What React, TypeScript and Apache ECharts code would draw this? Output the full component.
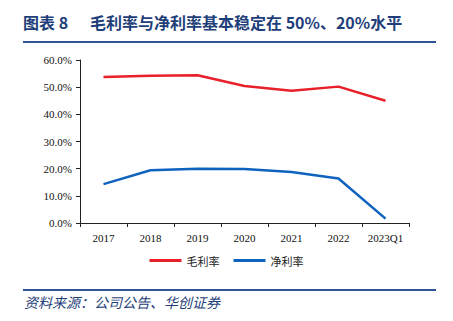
import React, { useEffect, useRef } from "react";
import * as echarts from "echarts";

const categories = ["2017", "2018", "2019", "2020", "2021", "2022", "2023Q1"];
const grossMargin = [53.7, 54.2, 54.4, 50.4, 48.7, 50.2, 45.0];
const netMargin = [14.3, 19.4, 20.0, 19.9, 18.8, 16.4, 1.6];
const yTicks = [0, 10, 20, 30, 40, 50, 60];

const NAVY = "#1F3F7A";

export default function App() {
  const ref = useRef<HTMLDivElement>(null);
  useEffect(() => {
    const chart = echarts.init(ref.current!, null, { renderer: "svg" });
    chart.setOption({
      animation: false,
      backgroundColor: "#fff",
      graphic: [
        {
          type: "text",
          left: 23,
          top: 14,
          style: {
            text: "图表 8",
            font: "bold 16px 'Noto Sans CJK SC', serif",
            fill: NAVY,
          },
        },
        {
          type: "text",
          left: 90,
          top: 14,
          style: {
            text: "毛利率与净利率基本稳定在 50%、20%水平",
            font: "bold 16px 'Noto Sans CJK SC', serif",
            fill: NAVY,
          },
        },
        { type: "rect", shape: { x: 23, y: 41, width: 413, height: 2 }, style: { fill: "#2F5597" } },
        { type: "rect", shape: { x: 23, y: 289, width: 413, height: 2 }, style: { fill: "#2F5597" } },
        {
          type: "text",
          left: 24,
          top: 295,
          style: {
            text: "资料来源：公司公告、华创证券",
            font: "italic 14px 'Noto Sans CJK SC', serif",
            fill: NAVY,
          },
        },
      ],
      legend: {
        bottom: 50,
        left: "center",
        itemWidth: 32,
        itemHeight: 3,
        itemGap: 14,
        icon: "rect",
        textStyle: { fontFamily: "'Noto Sans CJK SC'", fontSize: 11, color: "#222" },
        data: ["毛利率", "净利率"],
      },
      grid: { left: 80, right: 44, top: 60, bottom: 98 },
      xAxis: {
        type: "category",
        data: categories,
        boundaryGap: true,
        axisLine: { lineStyle: { color: "#222", width: 1 } },
        axisTick: { show: true, alignWithLabel: false, length: 4, lineStyle: { color: "#222" } },
        axisLabel: { fontFamily: "'Liberation Serif', serif", fontSize: 11, color: "#111", margin: 9 },
      },
      yAxis: {
        type: "value",
        min: 0,
        max: 60,
        interval: 10,
        splitLine: { show: false },
        axisLine: { show: true, lineStyle: { color: "#222", width: 1 } },
        axisTick: { show: true, length: 4, lineStyle: { color: "#222" } },
        axisLabel: {
          fontFamily: "'Liberation Serif', serif",
          fontSize: 11,
          color: "#111",
          margin: 8,
          formatter: (v: number) => (yTicks.includes(v) ? v.toFixed(1) + "%" : ""),
        },
      },
      series: [
        {
          name: "毛利率",
          type: "line",
          data: grossMargin,
          symbol: "none",
          lineStyle: { color: "#E8202A", width: 2.5 },
          itemStyle: { color: "#E8202A" },
        },
        {
          name: "净利率",
          type: "line",
          data: netMargin,
          symbol: "none",
          lineStyle: { color: "#0E63BE", width: 2.5 },
          itemStyle: { color: "#0E63BE" },
        },
      ],
    });
    return () => chart.dispose();
  }, []);
  return <div ref={ref} style={{ width: 453, height: 321, position: "absolute", left: 0, top: 0 }} />;
}
